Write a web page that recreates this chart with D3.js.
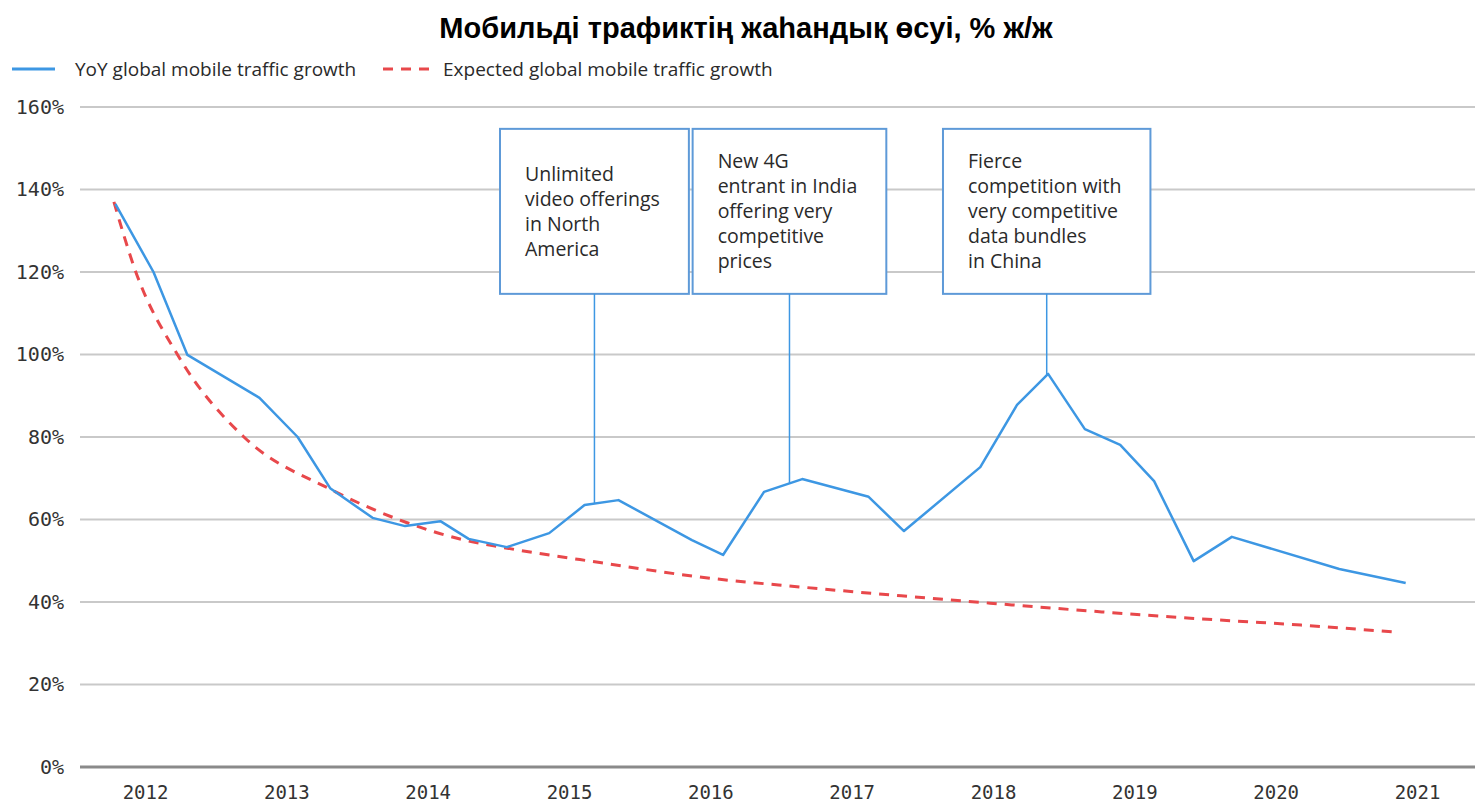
<!DOCTYPE html>
<html>
<head>
<meta charset="utf-8">
<script src="https://cdn.jsdelivr.net/npm/d3@7"></script>
<style>
  body { margin: 0; background: #fff; }
</style>
</head>
<body>
<div id="chart"></div>
<script>
// quarterly-ish readings, x in decimal years
var actualYears = [2011.79, 2012.06, 2012.30, 2012.81, 2013.08, 2013.31, 2013.61, 2013.84, 2014.09, 2014.29,
  2014.56, 2014.86, 2015.11, 2015.35, 2015.87, 2016.09, 2016.38, 2016.65, 2017.12, 2017.37,
  2017.91, 2018.17, 2018.39, 2018.65, 2018.90, 2019.14, 2019.42, 2019.69, 2020.45, 2020.92];
var actualGrowth = [136.5, 120.0, 99.9, 89.5, 80.0, 67.6, 60.4, 58.4, 59.6, 55.3,
  53.3, 56.7, 63.5, 64.7, 55.0, 51.4, 66.7, 69.8, 65.5, 57.2,
  72.7, 87.8, 95.3, 81.9, 78.1, 69.3, 49.9, 55.8, 48.0, 44.6];

var expectedYears = [2011.78, 2011.93, 2012.24, 2012.70, 2013.32, 2013.84, 2014.26, 2014.52, 2015.23, 2015.94,
  2016.65, 2017.35, 2018.06, 2018.77, 2019.48, 2020.18, 2020.85];
var expectedGrowth = [137, 120.5, 99.4, 80, 67.2, 59.4, 55, 53.3, 49.5, 46,
  43.6, 41.5, 39.5, 37.6, 35.9, 34.4, 32.7];

var yTicks = [0, 20, 40, 60, 80, 100, 120, 140, 160];
var xTicks = [2012, 2013, 2014, 2015, 2016, 2017, 2018, 2019, 2020, 2021];

var noteYears = [2015.18, 2016.56, 2018.38];
var noteLines = [
  ["Unlimited", "video offerings", "in North", "America"],
  ["New 4G", "entrant in India", "offering very", "competitive", "prices"],
  ["Fierce", "competition with", "very competitive", "data bundles", "in China"]
];

var seriesNames = ["YoY global mobile traffic growth", "Expected global mobile traffic growth"];
var title = "Мобильді трафиктің жаһандық өсуі, % ж/ж";

var width = 1475, height = 804;
var blue = "#3d97e3", red = "#e8484b";
var textFont = "'Open Sans', sans-serif";

var svg = d3.select("#chart").append("svg")
  .attr("width", width)
  .attr("height", height);

var x = d3.scaleLinear().domain([2012, 2021]).range([145, 1417]);
var y = d3.scaleLinear().domain([0, 160]).range([767, 107]);

// title
svg.append("text")
  .attr("x", 746).attr("y", 38)
  .attr("text-anchor", "middle")
  .style("font-family", "'Liberation Sans', Arial, sans-serif")
  .style("font-weight", "bold")
  .style("font-size", "29px")
  .style("fill", "#000")
  .text(title);

// legend
var legend = svg.append("g").attr("transform", "translate(12,69)");
legend.append("line").attr("x1", 0).attr("x2", 43).attr("y1", 0).attr("y2", 0)
  .style("stroke", blue).style("stroke-width", 3);
legend.append("text").attr("x", 63).attr("y", 7).text(seriesNames[0]);
legend.append("line").attr("x1", 371).attr("x2", 421).attr("y1", 0).attr("y2", 0)
  .style("stroke", red).style("stroke-width", 3).style("stroke-dasharray", "10,8");
legend.append("text").attr("x", 431).attr("y", 7).text(seriesNames[1]);
legend.selectAll("text")
  .style("font-family", textFont).style("font-size", "19px").style("fill", "#2a2a2a");

// grid
svg.append("g").selectAll("line")
  .data(yTicks)
  .enter().append("line")
  .attr("x1", 80).attr("x2", width)
  .attr("y1", function(d) { return y(d); })
  .attr("y2", function(d) { return y(d); })
  .style("stroke", function(d) { return d === 0 ? "#8a8a8a" : "#c9c9c9"; })
  .style("stroke-width", function(d) { return d === 0 ? 3 : 2; });

// axes
var yAxis = svg.append("g")
  .attr("transform", "translate(64,0)")
  .call(d3.axisLeft(y).tickValues(yTicks).tickSize(0).tickPadding(0)
    .tickFormat(function(d) { return d + "%"; }));
yAxis.selectAll("text").style("font-size", "20px");
var xAxis = svg.append("g")
  .attr("transform", "translate(0,780)")
  .call(d3.axisBottom(x).tickValues(xTicks).tickSize(0).tickPadding(6)
    .tickFormat(d3.format("d")));
xAxis.selectAll("text").style("font-size", "19px");
[xAxis, yAxis].forEach(function(a) {
  a.select(".domain").remove();
  a.selectAll("text")
    .style("font-family", "'DejaVu Sans Mono', monospace")
    .style("fill", "#333");
});

// lines
var actual = actualYears.map(function(d, i) { return [d, actualGrowth[i]]; });
var expected = expectedYears.map(function(d, i) { return [d, expectedGrowth[i]]; });

var line = d3.line()
  .x(function(d) { return x(d[0]); })
  .y(function(d) { return y(d[1]); });

svg.append("path")
  .datum(expected)
  .attr("d", line.curve(d3.curveMonotoneX))
  .style("fill", "none")
  .style("stroke", red)
  .style("stroke-width", 3)
  .style("stroke-dasharray", "10,8");

svg.append("path")
  .datum(actual)
  .attr("d", d3.line().x(function(d) { return x(d[0]); }).y(function(d) { return y(d[1]); }))
  .style("fill", "none")
  .style("stroke", blue)
  .style("stroke-width", 2.5)
  .style("stroke-linejoin", "round");

// annotations
var boxTop = y(154.7), boxBottom = y(114.7), lineGap = 25;
function valueAt(year) {
  var i = d3.bisectRight(actualYears, year);
  var t = (year - actualYears[i - 1]) / (actualYears[i] - actualYears[i - 1]);
  return actualGrowth[i - 1] + t * (actualGrowth[i] - actualGrowth[i - 1]);
}

noteLines.forEach(function(lines, n) {
  var cx = x(noteYears[n]);
  var g = svg.append("g");
  var rect = g.append("rect");
  var txt = g.append("text")
    .style("font-family", textFont).style("font-size", "19.5px").style("fill", "#2a2a2a");
  var midY = (boxTop + boxBottom) / 2;
  var first = midY - (lines.length - 1) * lineGap / 2;
  lines.forEach(function(l, k) {
    txt.append("tspan").attr("y", first + k * lineGap).attr("dy", "0.35em").text(l);
  });
  var maxW = 0;
  txt.selectAll("tspan").each(function() { maxW = Math.max(maxW, this.getComputedTextLength()); });
  var w = maxW + 54;
  var left = cx - w / 2;
  txt.selectAll("tspan").attr("x", left + 25);
  rect.attr("x", left).attr("y", boxTop).attr("width", w).attr("height", boxBottom - boxTop)
    .style("fill", "#fff").style("stroke", "#5e9ad8").style("stroke-width", 2);
  g.append("line")
    .attr("x1", cx).attr("x2", cx)
    .attr("y1", boxBottom).attr("y2", y(valueAt(noteYears[n])))
    .style("stroke", blue).style("stroke-width", 1.5);
});
</script>
</body>
</html>
